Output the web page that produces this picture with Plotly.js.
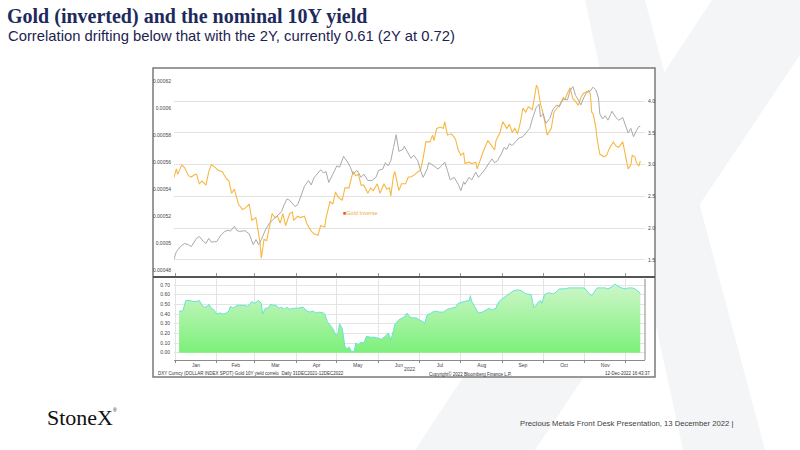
<!DOCTYPE html>
<html>
<head>
<meta charset="utf-8">
<script src="https://cdn.plot.ly/plotly-3.0.1.min.js"></script>
<style>
  html, body { margin: 0; padding: 0; background: #fff; }
  #chart { width: 800px; height: 450px; }
</style>
</head>
<body>
<div id="chart"></div>
<script>
// Gold inverse (1 / spot), left axis
const goldDates = [
  "2021-12-31","2022-01-02","2022-01-03","2022-01-06","2022-01-08","2022-01-11","2022-01-13","2022-01-16","2022-01-17","2022-01-19",
  "2022-01-21","2022-01-24","2022-01-26","2022-01-28","2022-01-31","2022-02-02","2022-02-05","2022-02-08","2022-02-10","2022-02-12",
  "2022-02-14","2022-02-17","2022-02-20","2022-02-22","2022-02-25","2022-02-27","2022-03-02","2022-03-04","2022-03-05","2022-03-06",
  "2022-03-08","2022-03-10","2022-03-12","2022-03-14","2022-03-16","2022-03-18","2022-03-20","2022-03-22","2022-03-24","2022-03-27",
  "2022-03-29","2022-03-30","2022-04-02","2022-04-04","2022-04-07","2022-04-09","2022-04-12","2022-04-14","2022-04-17","2022-04-19",
  "2022-04-22","2022-04-23","2022-04-26","2022-04-28","2022-04-30","2022-05-02","2022-05-05","2022-05-07","2022-05-10","2022-05-12",
  "2022-05-13","2022-05-15","2022-05-17","2022-05-19","2022-05-21","2022-05-24","2022-05-26","2022-05-28","2022-05-31","2022-06-02",
  "2022-06-05","2022-06-07","2022-06-09","2022-06-10","2022-06-12","2022-06-13","2022-06-16","2022-06-18","2022-06-21","2022-06-23",
  "2022-06-25","2022-06-28","2022-06-30","2022-07-02","2022-07-04","2022-07-06","2022-07-09","2022-07-11","2022-07-12","2022-07-14",
  "2022-07-17","2022-07-19","2022-07-20","2022-07-22","2022-07-25","2022-07-28","2022-07-30","2022-08-01","2022-08-03","2022-08-04",
  "2022-08-07","2022-08-09","2022-08-12","2022-08-13","2022-08-16","2022-08-18","2022-08-21","2022-08-24","2022-08-26","2022-08-27",
  "2022-08-30","2022-09-01","2022-09-04","2022-09-06","2022-09-08","2022-09-10","2022-09-12","2022-09-14","2022-09-16","2022-09-18",
  "2022-09-20","2022-09-23","2022-09-24","2022-09-26","2022-09-27","2022-09-29","2022-10-01","2022-10-03","2022-10-04","2022-10-07",
  "2022-10-09","2022-10-12","2022-10-13","2022-10-16","2022-10-17","2022-10-19","2022-10-21","2022-10-23","2022-10-25","2022-10-27",
  "2022-10-29","2022-10-31","2022-11-02","2022-11-04","2022-11-05","2022-11-06","2022-11-07","2022-11-09","2022-11-10","2022-11-12",
  "2022-11-15","2022-11-17","2022-11-19","2022-11-22","2022-11-24","2022-11-26","2022-11-29","2022-11-30","2022-12-02","2022-12-03",
  "2022-12-05","2022-12-06","2022-12-08","2022-12-09","2022-12-11","2022-12-12"
];
const goldInverse = [
  0.000548,0.000555,0.000551,0.000558,0.000556,0.000550,0.000549,0.000551,0.000551,0.000544,
  0.000546,0.000543,0.000553,0.000558,0.000556,0.000554,0.000553,0.000548,0.000546,0.000537,
  0.000540,0.000529,0.000525,0.000526,0.000529,0.000517,0.000519,0.000508,0.000501,0.000489,
  0.000503,0.000502,0.000513,0.000522,0.000519,0.000520,0.000515,0.000522,0.000513,0.000522,
  0.000523,0.000517,0.000520,0.000519,0.000520,0.000514,0.000509,0.000507,0.000506,0.000513,
  0.000512,0.000519,0.000531,0.000529,0.000538,0.000534,0.000532,0.000541,0.000541,0.000550,
  0.000553,0.000550,0.000551,0.000543,0.000543,0.000537,0.000541,0.000539,0.000544,0.000537,
  0.000544,0.000540,0.000541,0.000535,0.000550,0.000553,0.000539,0.000544,0.000544,0.000549,
  0.000549,0.000551,0.000553,0.000554,0.000563,0.000575,0.000575,0.000580,0.000576,0.000585,
  0.000586,0.000585,0.000590,0.000580,0.000581,0.000577,0.000569,0.000565,0.000567,0.000559,
  0.000560,0.000559,0.000560,0.000555,0.000564,0.000569,0.000576,0.000572,0.000569,0.000576,
  0.000582,0.000590,0.000585,0.000588,0.000582,0.000585,0.000581,0.000589,0.000600,0.000597,
  0.000601,0.000599,0.000606,0.000617,0.000615,0.000603,0.000596,0.000586,0.000580,0.000585,
  0.000597,0.000601,0.000602,0.000608,0.000606,0.000611,0.000615,0.000607,0.000605,0.000602,
  0.000608,0.000611,0.000612,0.000613,0.000610,0.000597,0.000596,0.000586,0.000577,0.000566,
  0.000564,0.000565,0.000570,0.000575,0.000572,0.000571,0.000575,0.000569,0.000560,0.000555,
  0.000558,0.000565,0.000564,0.000560,0.000557,0.000561
];

// US 10Y yield, right axis
const yieldDates = [
  "2021-12-31","2022-01-02","2022-01-05","2022-01-08","2022-01-11","2022-01-13","2022-01-17","2022-01-19","2022-01-22","2022-01-24",
  "2022-01-26","2022-01-28","2022-02-01","2022-02-04","2022-02-07","2022-02-10","2022-02-11","2022-02-14","2022-02-16","2022-02-18",
  "2022-02-22","2022-02-25","2022-02-28","2022-03-02","2022-03-04","2022-03-06","2022-03-09","2022-03-12","2022-03-14","2022-03-16",
  "2022-03-19","2022-03-21","2022-03-23","2022-03-25","2022-03-27","2022-03-29","2022-03-31","2022-04-02","2022-04-05","2022-04-07",
  "2022-04-10","2022-04-12","2022-04-14","2022-04-17","2022-04-19","2022-04-21","2022-04-23","2022-04-25","2022-04-29","2022-05-01",
  "2022-05-03","2022-05-06","2022-05-09","2022-05-11","2022-05-13","2022-05-16","2022-05-19","2022-05-21","2022-05-24","2022-05-27",
  "2022-05-30","2022-06-01","2022-06-04","2022-06-06","2022-06-08","2022-06-10","2022-06-12","2022-06-14","2022-06-16","2022-06-19",
  "2022-06-20","2022-06-23","2022-06-25","2022-06-27","2022-06-30","2022-07-02","2022-07-04","2022-07-07","2022-07-08","2022-07-10",
  "2022-07-13","2022-07-15","2022-07-18","2022-07-20","2022-07-22","2022-07-24","2022-07-27","2022-07-30","2022-08-01","2022-08-03",
  "2022-08-04","2022-08-07","2022-08-09","2022-08-12","2022-08-14","2022-08-17","2022-08-19","2022-08-22","2022-08-24","2022-08-26",
  "2022-08-28","2022-08-31","2022-09-02","2022-09-04","2022-09-06","2022-09-08","2022-09-11","2022-09-13","2022-09-16","2022-09-18",
  "2022-09-21","2022-09-23","2022-09-26","2022-09-28","2022-09-29","2022-10-01","2022-10-03","2022-10-06","2022-10-08","2022-10-11",
  "2022-10-13","2022-10-14","2022-10-16","2022-10-19","2022-10-21","2022-10-23","2022-10-25","2022-10-27","2022-10-29","2022-10-31",
  "2022-11-02","2022-11-05","2022-11-07","2022-11-09","2022-11-11","2022-11-12","2022-11-14","2022-11-16","2022-11-18","2022-11-20",
  "2022-11-21","2022-11-24","2022-11-26","2022-11-29","2022-12-01","2022-12-03","2022-12-05","2022-12-07","2022-12-09","2022-12-11",
  "2022-12-12"
];
const yield10Y = [
  1.50,1.63,1.71,1.76,1.74,1.71,1.84,1.87,1.79,1.76,
  1.84,1.78,1.79,1.89,1.95,1.97,1.95,2.03,1.96,1.95,
  1.96,1.91,1.74,1.82,1.74,1.82,1.97,2.08,2.12,2.16,
  2.23,2.26,2.37,2.46,2.44,2.39,2.34,2.37,2.55,2.66,
  2.75,2.68,2.79,2.87,2.92,2.87,2.89,2.72,2.91,2.98,
  2.96,3.13,3.04,2.96,2.85,2.91,2.80,2.85,2.75,2.75,
  2.80,2.91,2.93,3.03,2.98,3.06,3.27,3.47,3.21,3.24,
  3.29,3.17,3.10,3.15,3.06,2.91,2.80,2.93,3.03,3.01,
  2.96,2.93,2.99,3.04,2.91,2.76,2.80,2.69,2.59,2.73,
  2.69,2.80,2.76,2.88,2.80,2.88,2.93,3.03,3.09,3.03,
  3.06,3.17,3.27,3.24,3.33,3.30,3.38,3.42,3.44,3.49,
  3.57,3.72,3.91,3.95,3.75,3.80,3.65,3.73,3.86,3.94,
  3.91,3.96,4.03,4.02,4.17,4.23,4.09,4.02,3.94,4.05,
  4.13,4.16,4.22,4.18,4.05,3.80,3.72,3.77,3.70,3.79,
  3.84,3.74,3.70,3.74,3.62,3.50,3.57,3.44,3.53,3.60,
  3.60
];

// rolling correlation, lower panel
const corrDates = [
  "2022-01-04","2022-01-06","2022-01-07","2022-01-09","2022-01-12","2022-01-14","2022-01-17","2022-01-19","2022-01-21","2022-01-23",
  "2022-01-25","2022-01-26","2022-01-28","2022-01-30","2022-02-01","2022-02-03","2022-02-06","2022-02-08","2022-02-10","2022-02-11",
  "2022-02-13","2022-02-16","2022-02-19","2022-02-21","2022-02-24","2022-02-26","2022-02-27","2022-03-01","2022-03-03","2022-03-04",
  "2022-03-06","2022-03-07","2022-03-09","2022-03-11","2022-03-13","2022-03-15","2022-03-17","2022-03-19","2022-03-21","2022-03-23",
  "2022-03-25","2022-03-27","2022-03-30","2022-04-02","2022-04-06","2022-04-09","2022-04-11","2022-04-13","2022-04-16","2022-04-18",
  "2022-04-21","2022-04-22","2022-04-24","2022-04-26","2022-04-28","2022-04-30","2022-05-01","2022-05-02","2022-05-03","2022-05-05",
  "2022-05-06","2022-05-07","2022-05-09","2022-05-10","2022-05-12","2022-05-14","2022-05-15","2022-05-17","2022-05-19","2022-05-21",
  "2022-05-23","2022-05-26","2022-05-29","2022-06-01","2022-06-03","2022-06-06","2022-06-08","2022-06-09","2022-06-10","2022-06-12",
  "2022-06-13","2022-06-16","2022-06-20","2022-06-22","2022-06-24","2022-06-26","2022-06-29","2022-07-01","2022-07-04","2022-07-05",
  "2022-07-07","2022-07-10","2022-07-11","2022-07-14","2022-07-16","2022-07-19","2022-07-22","2022-07-25","2022-07-28","2022-07-30",
  "2022-08-02","2022-08-04","2022-08-06","2022-08-07","2022-08-08","2022-08-09","2022-08-11","2022-08-14","2022-08-17","2022-08-20",
  "2022-08-22","2022-08-24","2022-08-27","2022-08-28","2022-08-30","2022-09-01","2022-09-04","2022-09-06","2022-09-09","2022-09-12",
  "2022-09-15","2022-09-18","2022-09-22","2022-09-23","2022-09-24","2022-09-26","2022-09-27","2022-09-29","2022-09-30","2022-10-02",
  "2022-10-05","2022-10-08","2022-10-10","2022-10-13","2022-10-17","2022-10-20","2022-10-24","2022-10-28","2022-10-31","2022-11-02",
  "2022-11-04","2022-11-06","2022-11-07","2022-11-10","2022-11-13","2022-11-16","2022-11-18","2022-11-21","2022-11-23","2022-11-25",
  "2022-11-28","2022-12-01","2022-12-03","2022-12-06","2022-12-08","2022-12-11","2022-12-12"
];
const corrValues = [
  0.43,0.43,0.44,0.54,0.54,0.53,0.53,0.54,0.49,0.47,
  0.48,0.50,0.46,0.44,0.40,0.41,0.40,0.41,0.43,0.48,
  0.46,0.49,0.49,0.49,0.48,0.51,0.53,0.51,0.53,0.54,
  0.51,0.40,0.46,0.46,0.50,0.49,0.49,0.46,0.47,0.45,
  0.47,0.45,0.46,0.46,0.47,0.43,0.42,0.43,0.41,0.42,
  0.41,0.40,0.32,0.29,0.25,0.19,0.18,0.21,0.30,0.25,
  0.16,0.06,0.04,0.06,0.01,0.02,0.10,0.08,0.11,0.10,
  0.17,0.16,0.16,0.15,0.14,0.17,0.20,0.18,0.13,0.23,
  0.29,0.34,0.37,0.41,0.37,0.36,0.36,0.34,0.32,0.30,
  0.39,0.41,0.42,0.43,0.42,0.42,0.45,0.46,0.47,0.51,
  0.52,0.53,0.54,0.53,0.59,0.53,0.48,0.41,0.42,0.44,
  0.46,0.44,0.46,0.50,0.54,0.56,0.59,0.61,0.64,0.65,
  0.64,0.61,0.60,0.54,0.47,0.49,0.52,0.54,0.51,0.60,
  0.62,0.61,0.62,0.66,0.66,0.67,0.67,0.67,0.67,0.65,
  0.61,0.59,0.61,0.67,0.67,0.67,0.66,0.68,0.71,0.69,
  0.67,0.66,0.67,0.67,0.66,0.63,0.61
];

const leftTicks = [0.00048, 0.0005, 0.00052, 0.00054, 0.00056, 0.00058, 0.0006, 0.00062];
const leftTickLabels = ["0.00048", "0.0005", "0.00052", "0.00054", "0.00056", "0.00058", "0.0006", "0.00062"];
const rightTicks = [1.5, 2.0, 2.5, 3.0, 3.5, 4.0];
const corrTicks = [0, 0.1, 0.2, 0.3, 0.4, 0.5, 0.6, 0.7];

const W = 800, H = 450;
// pixel -> paper helpers for the decoration
const px = v => v / W;
const py = v => 1 - v / H;
const poly = pts => "M" + pts.map(p => px(p[0]).toFixed(4) + "," + py(p[1]).toFixed(4)).join(" L") + " Z";

const tickFont = { family: "Liberation Sans, Arial, sans-serif", size: 5, color: "#444" };
const noteFont = { family: "Liberation Sans, Arial, sans-serif", size: 4.5, color: "#333" };
const xRange = ["2021-12-31 06:00", "2022-12-15 12:00"];

const traces = [
  {
    x: yieldDates, y: yield10Y, xaxis: "x", yaxis: "y2",
    type: "scatter", mode: "lines", name: "10Y yield",
    line: { color: "#aaaaaa", width: 1 }
  },
  {
    x: goldDates, y: goldInverse, xaxis: "x", yaxis: "y",
    type: "scatter", mode: "lines", name: "Gold Inverse",
    line: { color: "#f7b843", width: 1.1 }
  },
  {
    x: corrDates, y: corrValues, xaxis: "x2", yaxis: "y3",
    type: "scatter", mode: "lines", name: "Correlation",
    fill: "tozeroy",
    fillgradient: { type: "vertical", start: 0, stop: 0.7, colorscale: [[0, "#7cf07a"], [1, "#cdf6c8"]] },
    line: { color: "#66e3d6", width: 1 }
  }
];

const layout = {
  width: W, height: H,
  margin: { l: 0, r: 0, t: 0, b: 0 },
  paper_bgcolor: "#ffffff",
  plot_bgcolor: "rgba(0,0,0,0)",
  showlegend: false,
  title: {
    text: "<b>Gold (inverted) and the nominal 10Y yield</b>",
    font: { family: "Liberation Serif, Times New Roman, serif", size: 20, color: "#1d2a5c" },
    x: px(7), xanchor: "left", xref: "paper",
    y: py(16), yanchor: "middle", yref: "paper"
  },
  xaxis: {
    domain: [px(174), px(645)], anchor: "y", range: xRange, type: "date",
    showticklabels: false, showgrid: false, zeroline: false,
    ticks: "inside", ticklen: 3, tickcolor: "#999", dtick: "M1", tick0: "2022-01-01"
  },
  yaxis: {
    domain: [py(276), py(70)], range: [0.0004758, 0.0006282],
    tickvals: leftTicks, ticktext: leftTickLabels, tickfont: tickFont,
    showgrid: false, zeroline: false, ticks: "", ticklabelstandoff: 2
  },
  yaxis2: {
    overlaying: "y", side: "right", anchor: "x", range: [1.247, 4.49],
    tickvals: rightTicks, tickformat: ".1f", tickfont: tickFont,
    showgrid: true, gridcolor: "#e2e2e2", gridwidth: 1, zeroline: false, ticks: "", ticklabelstandoff: 2
  },
  xaxis2: {
    domain: [px(174), px(645)], anchor: "y3", range: xRange, type: "date", matches: "x",
    dtick: "M1", tick0: "2022-01-01", tickformat: "%b", ticklabelmode: "period",
    tickfont: tickFont, ticks: "outside", ticklen: 2, tickcolor: "#888", ticklabelstandoff: -2,
    showgrid: true, gridcolor: "#e4e4e4", showline: true, linecolor: "#8a8a8a", linewidth: 1, zeroline: false
  },
  yaxis3: {
    domain: [py(360), py(279)], anchor: "x2", range: [-0.0755, 0.762],
    tickvals: corrTicks, tickformat: ".2f", tickfont: tickFont,
    showgrid: true, gridcolor: "#e4e4e4", zeroline: false, ticks: "", ticklabelstandoff: 3
  },
  shapes: [
    // StoneX X watermark
    { type: "path", xref: "paper", yref: "paper", layer: "below", line: { width: 0 }, fillcolor: "#f4f5f7",
      path: poly([[712, 0], [800, 0], [800, 55], [535, 450], [415, 450]]) },
    { type: "path", xref: "paper", yref: "paper", layer: "below", line: { width: 0 }, fillcolor: "#f4f5f7",
      path: poly([[585, 0], [645, 0], [765, 450], [683, 450]]) },
    // chart frame
    { type: "rect", xref: "paper", yref: "paper", layer: "below", x0: px(153), x1: px(655), y0: py(377), y1: py(68),
      fillcolor: "#ffffff", line: { color: "#7a7a7a", width: 1.5 } },
    { type: "line", xref: "paper", yref: "paper", x0: px(153), x1: px(655), y0: py(277), y1: py(277),
      line: { color: "#555", width: 2 } },
    { type: "line", xref: "paper", yref: "paper", x0: px(645), x1: px(645), y0: py(360), y1: py(279),
      line: { color: "#8a8a8a", width: 1 } }
  ],
  annotations: [
    { text: "Correlation drifting below that with the 2Y, currently 0.61 (2Y at 0.72)",
      xref: "paper", yref: "paper", x: px(6), y: py(36), xanchor: "left", yanchor: "middle", showarrow: false,
      font: { family: "Liberation Sans, Arial, sans-serif", size: 14.8, color: "#1d2350" } },
    { text: "<span style='color:#e8601c'>■</span>Gold Inverse",
      xref: "paper", yref: "paper", x: px(341), y: py(213), xanchor: "left", yanchor: "middle", showarrow: false,
      font: { family: "Liberation Sans, Arial, sans-serif", size: 5.5, color: "#f5a83a" } },
    { text: "2022", xref: "paper", yref: "paper", x: px(409), y: py(369), xanchor: "center", yanchor: "middle",
      showarrow: false, font: tickFont },
    { text: "DXY Curncy (DOLLAR INDEX SPOT) Gold 10Y yield correlo  Daily 31DEC2021-12DEC2022",
      xref: "paper", yref: "paper", x: px(156), y: py(373.5), xanchor: "left", yanchor: "middle", showarrow: false,
      font: noteFont },
    { text: "Copyright© 2022 Bloomberg Finance L.P.",
      xref: "paper", yref: "paper", x: px(427), y: py(373.5), xanchor: "left", yanchor: "middle", showarrow: false,
      font: noteFont },
    { text: "12-Dec-2022 16:43:37",
      xref: "paper", yref: "paper", x: px(652), y: py(373.5), xanchor: "right", yanchor: "middle", showarrow: false,
      font: noteFont },
    { text: "StoneX",
      xref: "paper", yref: "paper", x: px(45), y: py(417), xanchor: "left", yanchor: "middle", showarrow: false,
      font: { family: "Liberation Serif, Times New Roman, serif", size: 22, color: "#111" } },
    { text: "®",
      xref: "paper", yref: "paper", x: px(111), y: py(410), xanchor: "left", yanchor: "middle", showarrow: false,
      font: { family: "Liberation Sans, Arial, sans-serif", size: 5, color: "#111" } },
    { text: "Precious Metals Front Desk Presentation, 13 December 2022 |",
      xref: "paper", yref: "paper", x: px(736), y: py(423), xanchor: "right", yanchor: "middle", showarrow: false,
      font: { family: "Liberation Sans, Arial, sans-serif", size: 7.7, color: "#404040" } }
  ]
};

Plotly.newPlot("chart", traces, layout, { displayModeBar: false, staticPlot: true });
</script>
</body>
</html>
